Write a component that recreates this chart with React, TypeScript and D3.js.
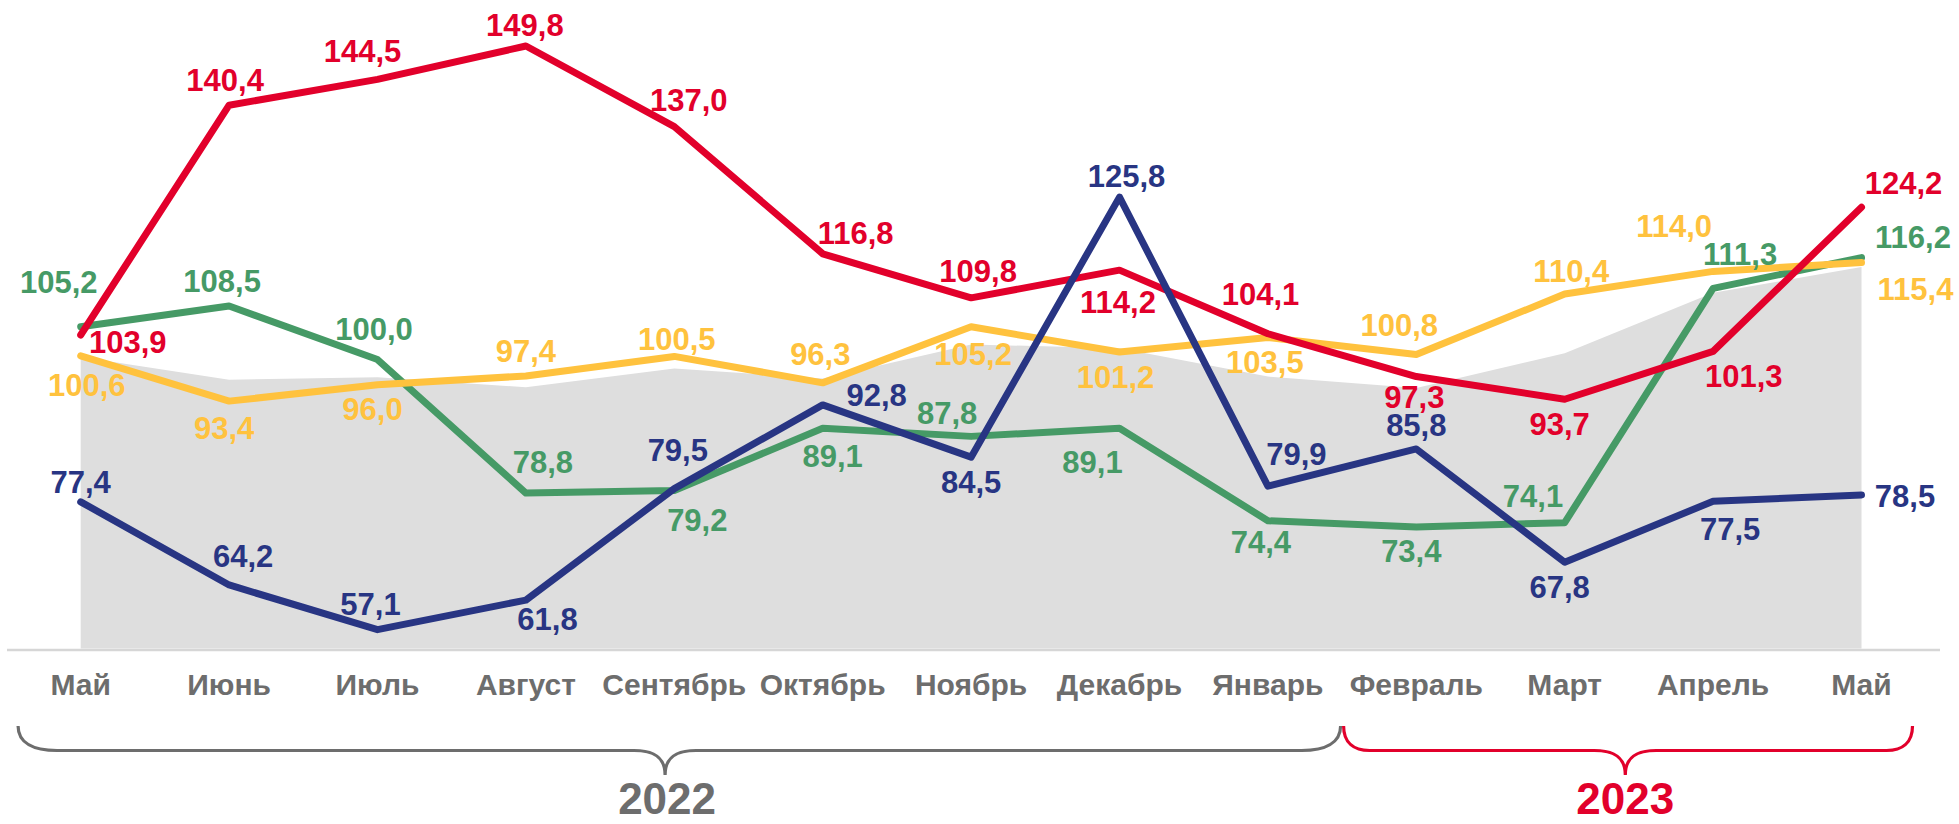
import React from 'react';
import * as d3 from 'd3';

const months = ['Май', 'Июнь', 'Июль', 'Август', 'Сентябрь', 'Октябрь', 'Ноябрь', 'Декабрь', 'Январь', 'Февраль', 'Март', 'Апрель', 'Май'];
const redValues = [103.9, 140.4, 144.5, 149.8, 137.0, 116.8, 109.8, 114.2, 104.1, 97.3, 93.7, 101.3, 124.2];
const greenValues = [105.2, 108.5, 100.0, 78.8, 79.2, 89.1, 87.8, 89.1, 74.4, 73.4, 74.1, 111.3, 116.2];
const yellowValues = [100.6, 93.4, 96.0, 97.4, 100.5, 96.3, 105.2, 101.2, 103.5, 100.8, 110.4, 114.0, 115.4];
const blueValues = [77.4, 64.2, 57.1, 61.8, 79.5, 92.8, 84.5, 125.8, 79.9, 85.8, 67.8, 77.5, 78.5];
const grayValues = [100.4, 96.8, 97.2, 95.6, 98.6, 97.0, 102.4, 101.8, 97.3, 95.5, 101.0, 110.6, 114.7];
const yearLabels = ['2022', '2023'];

// label placement offsets (style, not data)
const redOffsets = [[47, 18], [-4, -14.5], [-15, -17.7], [-1, -10], [14.5, -16], [33, -9.5], [7, -16], [-1.5, 43], [-7.4, -28.7], [-2, 31], [-5, 36], [30.7, 36], [42, -13]];
const greenOffsets = [[-22, -33.5], [-7, -14], [-3.5, -20], [17, -20], [23, 40], [10, 38.5], [-24, -12], [-27, 44.5], [-7, 32.6], [-5, 34.7], [-31.7, -16], [27, -23.4], [51.5, -10]];
const yellowOffsets = [[6, 40], [-5, 38], [-5, 35], [0, -14], [2.4, -6.4], [-2.4, -18], [2, 38], [-4, 36], [-3, 35], [-17, -18.5], [6.6, -12.4], [-39, -34], [54, 37]];
const blueOffsets = [[0, -9], [14, -17.6], [-7, -15], [21.6, 30], [3.5, -28], [54, 1], [0, 35.6], [7, -10], [28.5, -21], [0, -13], [-5, 36], [17, 39], [43.5, 12]];

const W = 1959;
const H = 824;
const FONT = '"Liberation Sans", Arial, sans-serif';

const COLORS = {
  red: '#E2002B',
  green: '#469A66',
  yellow: '#FFC23E',
  blue: '#283583',
  gray: '#6D6D6D',
  fill: '#DEDEDE',
  axis: '#D6D6D6',
};

const x = d3.scalePoint<number>().domain(d3.range(months.length)).range([80.7, 1861.5]);
const y = d3.scaleLinear().domain([54, 150]).range([649.2, 44.74]);

const fmt = (v: number) => v.toFixed(1).replace('.', ',');

function brace(x1: number, x2: number, tip: number, r: number) {
  const yTop = 726;
  const yMid = 750.5;
  const yTip = 775;
  return [
    `M${x1},${yTop}`,
    `C${x1},${yTop + 17} ${x1 + r * 0.4},${yMid} ${x1 + r},${yMid}`,
    `L${tip - 31},${yMid}`,
    `C${tip - 12},${yMid} ${tip},${yMid + 6} ${tip},${yTip}`,
    `C${tip},${yMid + 6} ${tip + 12},${yMid} ${tip + 31},${yMid}`,
    `L${x2 - r},${yMid}`,
    `C${x2 - r * 0.4},${yMid} ${x2},${yTop + 17} ${x2},${yTop}`,
  ].join(' ');
}

export default function App() {
  const line = d3.line<number>().x((_, i) => x(i) as number).y((d) => y(d));
  const area = d3.area<number>().x((_, i) => x(i) as number).y0(648.5).y1((d) => y(d));

  const series = [
    { key: 'green', values: greenValues, color: COLORS.green, offsets: greenOffsets },
    { key: 'yellow', values: yellowValues, color: COLORS.yellow, offsets: yellowOffsets },
    { key: 'red', values: redValues, color: COLORS.red, offsets: redOffsets },
    { key: 'blue', values: blueValues, color: COLORS.blue, offsets: blueOffsets },
  ];

  const step = x.step();
  const x0 = (x(0) as number) - step * 0.422;
  const xSplit = ((x(8) as number) + (x(9) as number)) / 2;
  const xEnd = (x(12) as number) + 51;
  const tip2022 = (x0 + xSplit) / 2 - 15;
  const tip2023 = (xSplit + xEnd) / 2 - 2;

  return (
    <svg
      width={W}
      height={H}
      viewBox={`0 0 ${W} ${H}`}
      style={{ position: 'absolute', left: 0, top: 0, background: '#fff' }}
    >
      <path d={area(grayValues) as string} fill={COLORS.fill} />
      <line x1={7} x2={1940} y1={650} y2={650} stroke={COLORS.axis} strokeWidth={2.5} />

      {series.map((s) => (
        <path
          key={s.key}
          d={line(s.values) as string}
          fill="none"
          stroke={s.color}
          strokeWidth={7}
          strokeLinejoin="round"
          strokeLinecap="round"
        />
      ))}

      {series.map((s) =>
        s.values.map((v, i) => (
          <text
            key={`${s.key}-${i}`}
            x={(x(i) as number) + s.offsets[i][0]}
            y={y(v) + s.offsets[i][1]}
            textAnchor="middle"
            fontFamily={FONT}
            fontWeight="bold"
            fontSize={31}
            fill={s.color}
          >
            {fmt(v)}
          </text>
        ))
      )}

      {months.map((m, i) => (
        <text
          key={`m-${i}`}
          x={x(i) as number}
          y={695}
          textAnchor="middle"
          fontFamily={FONT}
          fontWeight="bold"
          fontSize={30}
          fill={COLORS.gray}
        >
          {m}
        </text>
      ))}

      <path d={brace(x0, xSplit - 1.5, tip2022, 39)} fill="none" stroke={COLORS.gray} strokeWidth={3.2} />
      <path d={brace(xSplit + 1.5, xEnd, tip2023, 26)} fill="none" stroke={COLORS.red} strokeWidth={3.2} />

      <text x={tip2022 + 2} y={814} textAnchor="middle" fontFamily={FONT} fontWeight="bold" fontSize={44} fill={COLORS.gray}>
        {yearLabels[0]}
      </text>
      <text x={tip2023} y={814} textAnchor="middle" fontFamily={FONT} fontWeight="bold" fontSize={44} fill={COLORS.red}>
        {yearLabels[1]}
      </text>
    </svg>
  );
}
